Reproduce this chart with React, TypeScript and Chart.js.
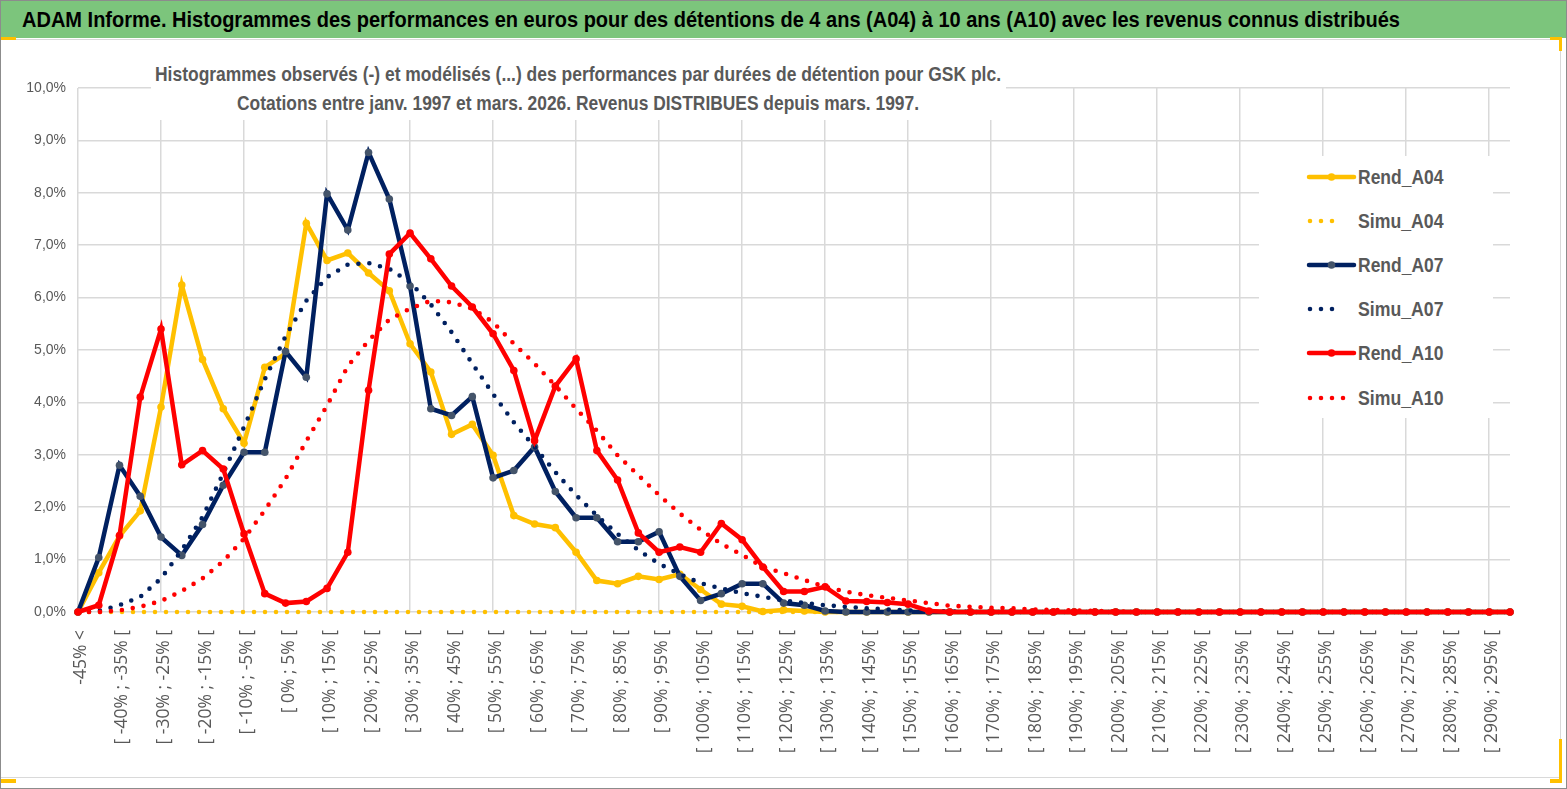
import React, { useEffect, useLayoutEffect, useRef } from "react";
import { Chart, registerables } from "chart.js";

Chart.register(...registerables);

const TITLE =
  "ADAM Informe. Histogrammes des performances en euros pour des détentions de 4 ans (A04) à 10 ans (A10) avec les revenus connus distribués";
const SUBTITLE_1 =
  "Histogrammes observés (-) et modélisés (...) des performances par durées de détention pour GSK plc.";
const SUBTITLE_2 =
  "Cotations entre janv. 1997 et mars. 2026. Revenus DISTRIBUES depuis mars. 1997.";

const categories = [
  "-45% <",
  "[ -45% ; -40% [", "[ -40% ; -35% [", "[ -35% ; -30% [", "[ -30% ; -25% [", "[ -25% ; -20% [",
  "[ -20% ; -15% [", "[ -15% ; -10% [", "[ -10% ; -5% [", "[ -5% ; 0% [", "[ 0% ; 5% [",
  "[ 5% ; 10% [", "[ 10% ; 15% [", "[ 15% ; 20% [", "[ 20% ; 25% [", "[ 25% ; 30% [",
  "[ 30% ; 35% [", "[ 35% ; 40% [", "[ 40% ; 45% [", "[ 45% ; 50% [", "[ 50% ; 55% [",
  "[ 55% ; 60% [", "[ 60% ; 65% [", "[ 65% ; 70% [", "[ 70% ; 75% [", "[ 75% ; 80% [",
  "[ 80% ; 85% [", "[ 85% ; 90% [", "[ 90% ; 95% [", "[ 95% ; 100% [", "[ 100% ; 105% [",
  "[ 105% ; 110% [", "[ 110% ; 115% [", "[ 115% ; 120% [", "[ 120% ; 125% [", "[ 125% ; 130% [",
  "[ 130% ; 135% [", "[ 135% ; 140% [", "[ 140% ; 145% [", "[ 145% ; 150% [", "[ 150% ; 155% [",
  "[ 155% ; 160% [", "[ 160% ; 165% [", "[ 165% ; 170% [", "[ 170% ; 175% [", "[ 175% ; 180% [",
  "[ 180% ; 185% [", "[ 185% ; 190% [", "[ 190% ; 195% [", "[ 195% ; 200% [", "[ 200% ; 205% [",
  "[ 205% ; 210% [", "[ 210% ; 215% [", "[ 215% ; 220% [", "[ 220% ; 225% [", "[ 225% ; 230% [",
  "[ 230% ; 235% [", "[ 235% ; 240% [", "[ 240% ; 245% [", "[ 245% ; 250% [", "[ 250% ; 255% [",
  "[ 255% ; 260% [", "[ 260% ; 265% [", "[ 265% ; 270% [", "[ 270% ; 275% [", "[ 275% ; 280% [",
  "[ 280% ; 285% [", "[ 285% ; 290% [", "[ 290% ; 295% [", "[ 295% ; 300% [",
];

// values in percent
const rendA04 = [
  0, 0.75, 1.45, 1.93, 3.91, 6.24, 4.82, 3.88, 3.22, 4.67,
  4.93, 7.42, 6.71, 6.85, 6.47, 6.13, 5.12, 4.58, 3.39, 3.58,
  2.99, 1.84, 1.68, 1.61, 1.14, 0.6, 0.54, 0.68, 0.62, 0.72,
  0.43, 0.15, 0.11, 0.01, 0.04, 0.02, 0, 0, 0, 0,
  0, 0, 0, 0, 0, 0, 0, 0, 0, 0,
  0, 0, 0, 0, 0, 0, 0, 0, 0, 0,
  0, 0, 0, 0, 0, 0, 0, 0, 0, 0,
];

const simuA04 = [
  0, 0, 0, 0, 0, 0, 0, 0, 0, 0,
  0, 0, 0, 0, 0, 0, 0, 0, 0, 0,
  0, 0, 0, 0, 0, 0, 0, 0, 0, 0,
  0, 0, 0, 0, 0, 0, 0, 0, 0, 0,
  0, 0, 0, 0, 0, 0, 0, 0, 0, 0,
  0, 0, 0, 0, 0, 0, 0, 0, 0, 0,
  0, 0, 0, 0, 0, 0, 0, 0, 0, 0,
];

const rendA07 = [
  0, 1.04, 2.8, 2.21, 1.43, 1.08, 1.67, 2.42, 3.05, 3.05,
  4.97, 4.48, 7.98, 7.29, 8.77, 7.88, 6.22, 3.88, 3.75, 4.11,
  2.56, 2.7, 3.15, 2.3, 1.8, 1.8, 1.34, 1.34, 1.53, 0.68,
  0.22, 0.35, 0.54, 0.54, 0.17, 0.13, 0.02, 0, 0, 0,
  0, 0, 0, 0, 0, 0, 0, 0, 0, 0,
  0, 0, 0, 0, 0, 0, 0, 0, 0, 0,
  0, 0, 0, 0, 0, 0, 0, 0, 0, 0,
];

const simuA07 = [
  0, 0.02, 0.13, 0.29, 0.64, 1.18, 1.81, 2.65, 3.53, 4.44,
  5.26, 5.94, 6.39, 6.63, 6.66, 6.55, 6.29, 5.87, 5.34, 4.74,
  4.16, 3.62, 3.15, 2.67, 2.23, 1.84, 1.49, 1.18, 0.92, 0.72,
  0.55, 0.45, 0.36, 0.29, 0.22, 0.17, 0.13, 0.1, 0.07, 0.05,
  0.03, 0.02, 0.01, 0, 0, 0, 0, 0, 0, 0,
  0, 0, 0, 0, 0, 0, 0, 0, 0, 0,
  0, 0, 0, 0, 0, 0, 0, 0, 0, 0,
];

const rendA10 = [
  0, 0.13, 1.46, 4.1, 5.4, 2.81, 3.08, 2.73, 1.49, 0.35,
  0.17, 0.2, 0.45, 1.14, 4.23, 6.83, 7.23, 6.74, 6.22, 5.82,
  5.31, 4.61, 3.27, 4.31, 4.83, 3.08, 2.52, 1.51, 1.14, 1.24,
  1.14, 1.69, 1.38, 0.86, 0.39, 0.39, 0.48, 0.21, 0.2, 0.18,
  0.15, 0.02, 0, 0, 0, 0, 0, 0, 0, 0,
  0, 0, 0, 0, 0, 0, 0, 0, 0, 0,
  0, 0, 0, 0, 0, 0, 0, 0, 0, 0,
];

const simuA10 = [
  0, 0, 0.03, 0.1, 0.21, 0.4, 0.64, 0.97, 1.4, 1.94,
  2.54, 3.26, 3.94, 4.69, 5.18, 5.58, 5.79, 5.94, 5.91, 5.79,
  5.53, 5.12, 4.74, 4.32, 3.88, 3.46, 2.99, 2.61, 2.23, 1.88,
  1.57, 1.3, 1.09, 0.86, 0.74, 0.61, 0.48, 0.39, 0.32, 0.27,
  0.22, 0.17, 0.12, 0.1, 0.08, 0.07, 0.05, 0.04, 0.03, 0.02,
  0.01, 0, 0, 0, 0, 0, 0, 0, 0, 0,
  0, 0, 0, 0, 0, 0, 0, 0, 0, 0,
];

const seriesNames = ["Rend_A04", "Simu_A04", "Rend_A07", "Simu_A07", "Rend_A10", "Simu_A10"];
const yMin = 0;
const yMax = 10;
const yStep = 1;

const YELLOW = "#FFC000";
const NAVY = "#002060";
const NAVY_MARK = "#44546A";
const RED = "#FF0000";
const GREY_TEXT = "#595959";
const GRID = "#D9D9D9";
const SANS = "'Liberation Sans', Arial, sans-serif";

const legendRows = [
  { name: seriesNames[0], color: YELLOW, mark: YELLOW, dotted: false, y: 176 },
  { name: seriesNames[1], color: YELLOW, mark: YELLOW, dotted: true, y: 220, dots: 4 },
  { name: seriesNames[2], color: NAVY, mark: NAVY_MARK, dotted: false, y: 264 },
  { name: seriesNames[3], color: NAVY, mark: NAVY, dotted: true, y: 308, dots: 4 },
  { name: seriesNames[4], color: RED, mark: RED, dotted: false, y: 352 },
  { name: seriesNames[5], color: RED, mark: RED, dotted: true, y: 397, dots: 5 },
];

function FitText(props: {
  text: string;
  left: number;
  centerY: number;
  width: number;
  size: number;
  color: string;
}) {
  const ref = useRef<HTMLSpanElement>(null);
  useLayoutEffect(() => {
    const el = ref.current!;
    el.style.transform = "none";
    const w = el.getBoundingClientRect().width;
    if (w > 0) el.style.transform = `scaleX(${props.width / w})`;
  }, [props.text, props.width]);
  return (
    <span
      ref={ref}
      style={{
        position: "absolute",
        left: props.left,
        top: props.centerY - props.size * 0.6,
        height: props.size * 1.2,
        lineHeight: `${props.size * 1.2}px`,
        display: "inline-block",
        whiteSpace: "nowrap",
        transformOrigin: "left center",
        fontFamily: SANS,
        fontWeight: "bold",
        fontSize: props.size,
        color: props.color,
      }}
    >
      {props.text}
    </span>
  );
}

function solid(label: string, data: number[], color: string, mark: string, order: number) {
  return {
    label,
    data,
    borderColor: color,
    backgroundColor: color,
    borderWidth: 4.5,
    pointRadius: 3.8,
    pointBackgroundColor: mark,
    pointBorderColor: mark,
    pointBorderWidth: 0,
    tension: 0,
    order,
    clip: false as const,
  };
}

function dotted(label: string, data: number[], color: string, order: number) {
  return {
    label,
    data,
    borderColor: color,
    backgroundColor: color,
    borderWidth: 4.6,
    borderDash: [0, 11],
    borderCapStyle: "round" as const,
    pointRadius: 0,
    tension: 0,
    order,
    clip: false as const,
  };
}

export default function App() {
  const ref = useRef<HTMLCanvasElement>(null);

  useEffect(() => {
    document.body.style.margin = "0";
    const canvas = ref.current!;
    const chart = new Chart(canvas, {
      type: "line",
      data: {
        labels: categories,
        datasets: [
          solid(seriesNames[0], rendA04, YELLOW, YELLOW, 6),
          dotted(seriesNames[1], simuA04, YELLOW, 5),
          solid(seriesNames[2], rendA07, NAVY, NAVY_MARK, 4),
          dotted(seriesNames[3], simuA07, NAVY, 3),
          solid(seriesNames[4], rendA10, RED, RED, 2),
          dotted(seriesNames[5], simuA10, RED, 1),
        ] as any,
      },
      options: {
        animation: false,
        responsive: false,
        devicePixelRatio: 1,
        layout: { padding: { top: 48, right: 50, left: 0, bottom: 0 } },
        plugins: {
          legend: { display: false },
          tooltip: { enabled: false },
        },
        scales: {
          x: {
            type: "category",
            offset: false,
            border: { display: false },
            grid: {
              drawTicks: false,
              lineWidth: 1.5,
              color: (ctx: any) => (ctx.index % 4 === 0 ? GRID : "rgba(0,0,0,0)"),
            },
            ticks: {
              autoSkip: false,
              maxRotation: 90,
              minRotation: 90,
              padding: 18,
              labelOffset: 3,
              color: GREY_TEXT,
              font: { family: "'Open Sans', sans-serif", size: 17.5 },
              callback: (_v: any, i: number) => (i % 2 === 0 ? categories[i] : ""),
            },
            afterFit: (s: any) => {
              s.height = 166;
              s.paddingLeft = 0;
              s.paddingRight = 0;
            },
          },
          y: {
            min: yMin,
            max: yMax,
            border: { display: false },
            grid: { drawTicks: false, color: GRID, lineWidth: 1.5 },
            ticks: {
              stepSize: yStep,
              padding: 12,
              color: GREY_TEXT,
              font: { family: SANS, size: 14 },
              callback: (v: any) => Number(v).toFixed(1).replace(".", ",") + "%",
            },
            afterFit: (s: any) => {
              s.width = 78;
              s.paddingTop = 0;
              s.paddingBottom = 0;
            },
          },
        },
      } as any,
    });
    return () => chart.destroy();
  }, []);

  return (
    <div
      style={{
        position: "relative",
        width: 1567,
        height: 789,
        background: "#fff",
        overflow: "hidden",
        boxSizing: "border-box",
        border: "1px solid #8c8c8c",
      }}
    >
      {/* green title bar */}
      <div
        style={{
          position: "absolute",
          left: 0,
          top: 0,
          width: 1565,
          height: 37,
          background: "#7CC57C",
        }}
      />
      <FitText text={TITLE} left={21} centerY={18.5} width={1378} size={22.5} color="#000" />
      {/* chart frame */}
      <div
        style={{
          position: "absolute",
          left: -1,
          top: 38,
          width: 1561,
          height: 739,
          border: "1.5px solid #D9D9D9",
          boxSizing: "border-box",
        }}
      />
      <canvas
        ref={ref}
        width={1560}
        height={738}
        style={{ position: "absolute", left: -1, top: 39, width: 1560, height: 738 }}
      />
      {/* subtitle box */}
      <div
        style={{
          position: "absolute",
          left: 150,
          top: 56,
          width: 855,
          height: 63,
          background: "#fff",
        }}
      />
      <FitText text={SUBTITLE_1} left={154} centerY={73} width={846} size={21} color={GREY_TEXT} />
      <FitText text={SUBTITLE_2} left={236} centerY={102} width={682} size={21} color={GREY_TEXT} />
      {/* legend */}
      <div
        style={{
          position: "absolute",
          left: 1258,
          top: 155,
          width: 234,
          height: 262,
          background: "#fff",
        }}
      />
      {legendRows.map((r) => (
        <React.Fragment key={r.name}>
          <svg
            width={56}
            height={14}
            style={{ position: "absolute", left: 1302, top: r.y - 7 }}
          >
            {r.dotted ? (
              <line
                x1={7}
                y1={7}
                x2={7 + 11 * ((r.dots || 4) - 1)}
                y2={7}
                stroke={r.color}
                strokeWidth={4.6}
                strokeDasharray="0 11"
                strokeLinecap="round"
              />
            ) : (
              <>
                <line x1={6} y1={7} x2={51} y2={7} stroke={r.color} strokeWidth={4.5} strokeLinecap="round" />
                <circle cx={28.5} cy={7} r={3.8} fill={r.mark} />
              </>
            )}
          </svg>
          <FitText text={r.name} left={1357} centerY={r.y} width={85.5} size={21} color={GREY_TEXT} />
        </React.Fragment>
      ))}
      {/* selection handles */}
      <div style={{ position: "absolute", left: 0, top: 36, width: 15, height: 3, background: YELLOW }} />
      <div style={{ position: "absolute", left: 1549, top: 36, width: 12, height: 3, background: YELLOW }} />
      <div style={{ position: "absolute", left: 1558, top: 36, width: 3, height: 14, background: YELLOW }} />
      <div style={{ position: "absolute", left: 0, top: 778, width: 15, height: 4, background: YELLOW }} />
      <div style={{ position: "absolute", left: 1558, top: 738, width: 3, height: 44, background: YELLOW }} />
      <div style={{ position: "absolute", left: 1549, top: 778, width: 12, height: 4, background: YELLOW }} />
    </div>
  );
}
